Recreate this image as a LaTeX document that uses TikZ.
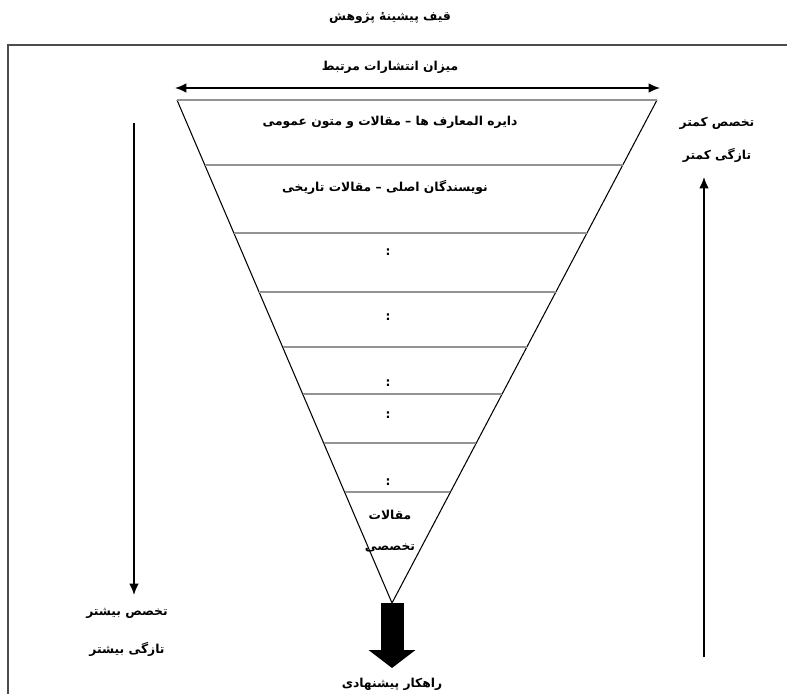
\documentclass[tikz,border=0pt]{standalone}
\usepackage{fontspec}
\newfontfamily\farsi[Script=Arabic]{DejaVu Sans}
\TeXXeTstate=1
\usetikzlibrary{positioning, calc, arrows.meta}
\tikzset{>={Latex[length=6.5pt,width=5.5pt]}, % arrow heads of the thin arrows
txt/.style={font=\farsi\bfseries\fontsize{7}{8}\selectfont, inner sep=1pt}, % all labels
layer/.style={draw=gray!85, line width=1.4pt}, % lines inside the funnel
side/.style={draw=black, line width=0.6pt}, % sides of the funnel
frame/.style={draw=black!70, line width=0.8pt},
}

\begin{document}
\begin{tikzpicture}[x=0.02cm, y=-0.02cm]
  \useasboundingbox (0,0) rectangle (787,693);
  \draw[frame] (8,700) -- (8,45) -- (790,45);

  \node[txt] (title) at (390,18) {\beginR قیف پیشینهٔ پژوهش\endR};
  \node[txt] (range) at (390,67) {\beginR میزان انتشارات مرتبط\endR};
  \coordinate (rangeL) at (175,88);
  \coordinate (rangeR) at (660,88);
  \draw[<->, line width=0.9pt] (rangeL) -- (rangeR);

  % the funnel
  \coordinate (tl) at (177,100);
  \coordinate (tr) at (657,100);
  \coordinate (apex) at (392,603);
  \draw[side] (tl) -- (apex) -- (tr);
  \draw[layer] (tl) -- (tr);
  \foreach \y in {165,233,292,347,394,443,492}
    \draw[layer] ($(tl)!{(\y-100)/503}!(apex)$) -- ($(tr)!{(\y-100)/503}!(apex)$);

  \node[txt] (row1) at (390,122) {\beginR دایره المعارف ها – مقالات و متون عمومی\endR};
  \node[txt] (row2) at (385,187) {\beginR نویسندگان اصلی – مقالات تاریخی\endR};
  \foreach \y [count=\i] in {252,317,383,415,482}
    \node[txt] (dots\i) at (388,\y) {:};
  \node[txt] (row8a) at (390,515) {\beginR مقالات\endR};
  \node[txt, below=0.4cm of row8a] (row8b) {\beginR تخصصی\endR};

  % proposed solution
  \coordinate (bigtip) at (392,668);
  \draw[line width=0.46cm, -{Triangle[length=0.36cm,width=0.92cm]}] (apex) -- (bigtip);
  \node[txt] (result) at (392,684) {\beginR راهکار پیشنهادی\endR};

  % left side
  \coordinate (moreTop) at (134,123);
  \coordinate (moreEnd) at (134,595);
  \draw[->, line width=0.9pt] (moreTop) -- (moreEnd);
  \node[txt] (moreA) at (127,613) {\beginR تخصص بیشتر\endR};
  \node[txt, below=0.4cm of moreA] (moreB) {\beginR تازگی بیشتر\endR};

  % right side
  \coordinate (lessBot) at (704,657);
  \coordinate (lessTop) at (704,177);
  \draw[->, line width=0.9pt] (lessBot) -- (lessTop);
  \node[txt] (lessA) at (717,123) {\beginR تخصص کمتر\endR};
  \node[txt, below=0.3cm of lessA] (lessB) {\beginR تازگی کمتر\endR};
\end{tikzpicture}
\end{document}
